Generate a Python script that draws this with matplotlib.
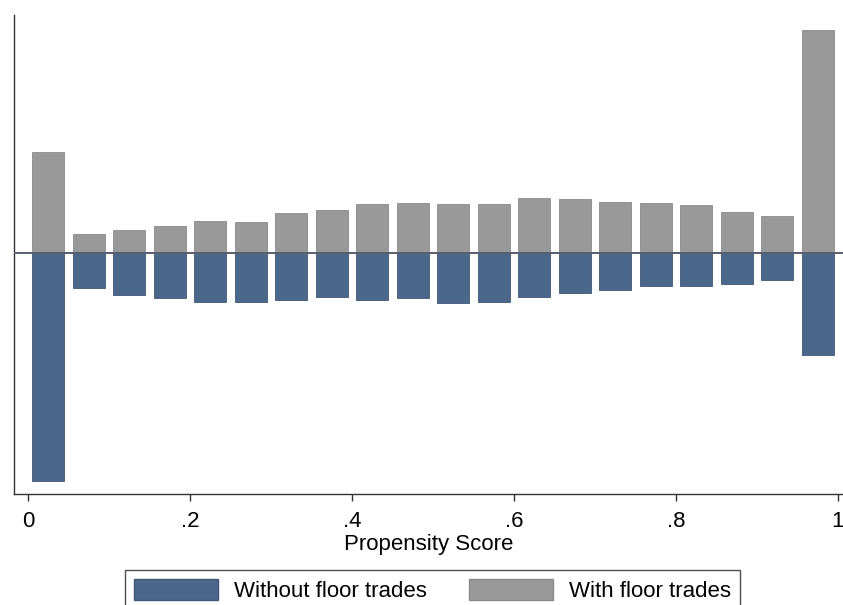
import matplotlib
matplotlib.use('Agg')
import matplotlib.pyplot as plt
import numpy as np
from matplotlib.patches import Patch

plt.rcParams['font.family'] = ['Liberation Sans', 'DejaVu Sans']

# Propensity score histogram (density), 20 bins of width 0.05
bin_left = np.arange(0, 1, 0.05)
with_floor = [1.88, 0.35, 0.43, 0.51, 0.60, 0.58, 0.74, 0.80, 0.91, 0.93,
              0.91, 0.91, 1.03, 1.00, 0.95, 0.93, 0.90, 0.76, 0.69, 4.16]
without_floor = [4.24, 0.64, 0.78, 0.84, 0.90, 0.91, 0.87, 0.82, 0.88, 0.84,
                 0.92, 0.91, 0.81, 0.75, 0.69, 0.61, 0.61, 0.57, 0.50, 1.90]
xticks = [0, 0.2, 0.4, 0.6, 0.8, 1.0]
xtick_labels = ['0', '.2', '.4', '.6', '.8', '1']

blue = '#4b6789'
grey = '#999999'

fig = plt.figure(figsize=(8.43, 6.05), dpi=100)
ax = fig.add_axes([14 / 843, 111 / 605, 829 / 843, 479 / 605])

centers = bin_left + 0.025
ax.bar(centers, with_floor, width=0.0395, color=grey,
       edgecolor='#8a8a8a', linewidth=0.6)
ax.bar(centers, -np.array(without_floor), width=0.0395, color=blue,
       edgecolor='#3f5877', linewidth=0.6)
ax.axhline(0, color='#56606c', linewidth=1.4, zorder=3)

ax.set_xlim(-0.0173, 1.0062)
ax.set_ylim(-4.48, 4.43)

for side in ['top', 'right']:
    ax.spines[side].set_visible(False)
for side in ['left', 'bottom']:
    ax.spines[side].set_color('#333333')
    ax.spines[side].set_linewidth(1.0)

ax.set_yticks([])
ax.set_xticks(xticks)
ax.set_xticklabels(xtick_labels, fontsize=16)
ax.tick_params(axis='x', length=5, width=1, color='#333333', pad=7.5)
ax.set_xlabel('Propensity Score', fontsize=16, labelpad=1)

handles = [Patch(facecolor=blue, edgecolor='#3f5877', label='Without floor trades'),
           Patch(facecolor=grey, edgecolor='#8a8a8a', label='With floor trades')]
leg = fig.legend(handles=handles, loc='upper center', bbox_to_anchor=(0.513, 1 - 570 / 605),
                 ncol=2, fontsize=16, frameon=True, fancybox=False,
                 handlelength=3.8, handleheight=1.05, handletextpad=0.7,
                 columnspacing=1.9, borderpad=0.4, borderaxespad=0)
leg.get_frame().set_edgecolor('#222222')
leg.get_frame().set_linewidth(1.0)

fig.savefig('out.png', dpi=100)
